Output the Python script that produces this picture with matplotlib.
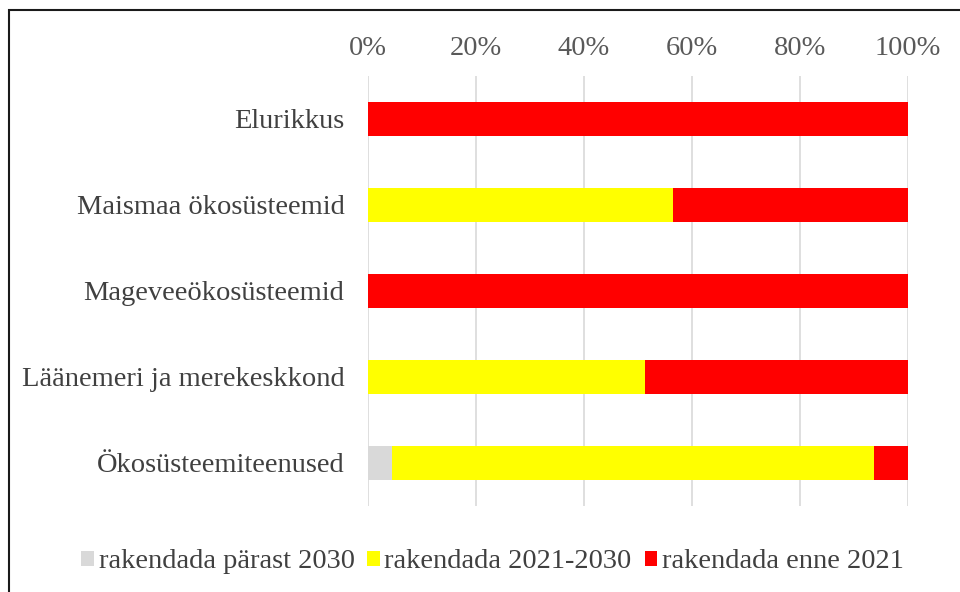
import matplotlib
matplotlib.use("Agg")
import matplotlib.pyplot as plt
from matplotlib.patches import Rectangle

plt.rcParams['font.family'] = ['Liberation Serif', 'DejaVu Serif']

categories = ["Elurikkus", "Maismaa ökosüsteemid", "Mageveeökosüsteemid",
              "Läänemeri ja merekeskkond", "Ökosüsteemiteenused"]
parast_2030 = [0.0, 0.0, 0.0, 0.0, 4.4]
aastad_2021_2030 = [0.0, 56.6, 0.0, 51.4, 89.4]
enne_2021 = [100.0, 43.4, 100.0, 48.6, 6.2]

series_names = ["rakendada pärast 2030", "rakendada 2021-2030", "rakendada enne 2021"]
colors = ["#D9D9D9", "#FFFF00", "#FF0000"]

fig = plt.figure(figsize=(9.6, 5.92), dpi=100)
ax = fig.add_axes([368 / 960, 1 - 506 / 592, (907.5 - 368) / 960, (506 - 76) / 592])

ypos = list(range(len(categories)))
left = [0.0] * len(categories)
for vals, name, col in zip([parast_2030, aastad_2021_2030, enne_2021], series_names, colors):
    ax.barh(ypos, vals, left=left, height=0.4, color=col, label=name, zorder=3)
    left = [a + b for a, b in zip(left, vals)]

ax.set_xlim(0, 100)
ax.set_ylim(len(categories) - 0.5, -0.5)
ax.set_yticks(ypos)
ax.set_yticklabels(categories, fontsize=20.5, color="#404040")
ax.set_xticks([0, 20, 40, 60, 80, 100])
ax.set_xticklabels(["0%", "20%", "40%", "60%", "80%", "100%"], fontsize=20.5, color="#595959")
ax.xaxis.tick_top()
ax.tick_params(axis="both", length=0)
ax.tick_params(axis="x", pad=11)
ax.tick_params(axis="y", pad=17)
ax.grid(axis="x", color="#D9D9D9", linewidth=1.2, zorder=0)
for s in ax.spines.values():
    s.set_visible(False)

leg = fig.legend(loc="center", bbox_to_anchor=(0.513, 1 - 562 / 592), ncol=3, frameon=False,
                 fontsize=20.5, handlelength=0.45, handleheight=0.45, handletextpad=0.15,
                 columnspacing=0.45)
for t in leg.get_texts():
    t.set_color("#404040")

# outer frame (right and bottom edges fall outside the picture)
fig.patches.append(Rectangle((8.5 / 960, -0.1), 1.2, 1 - 10 / 592 + 0.1, transform=fig.transFigure,
                             fill=False, edgecolor="#1a1a1a", linewidth=1.5))

fig.savefig("out.png", dpi=100)
